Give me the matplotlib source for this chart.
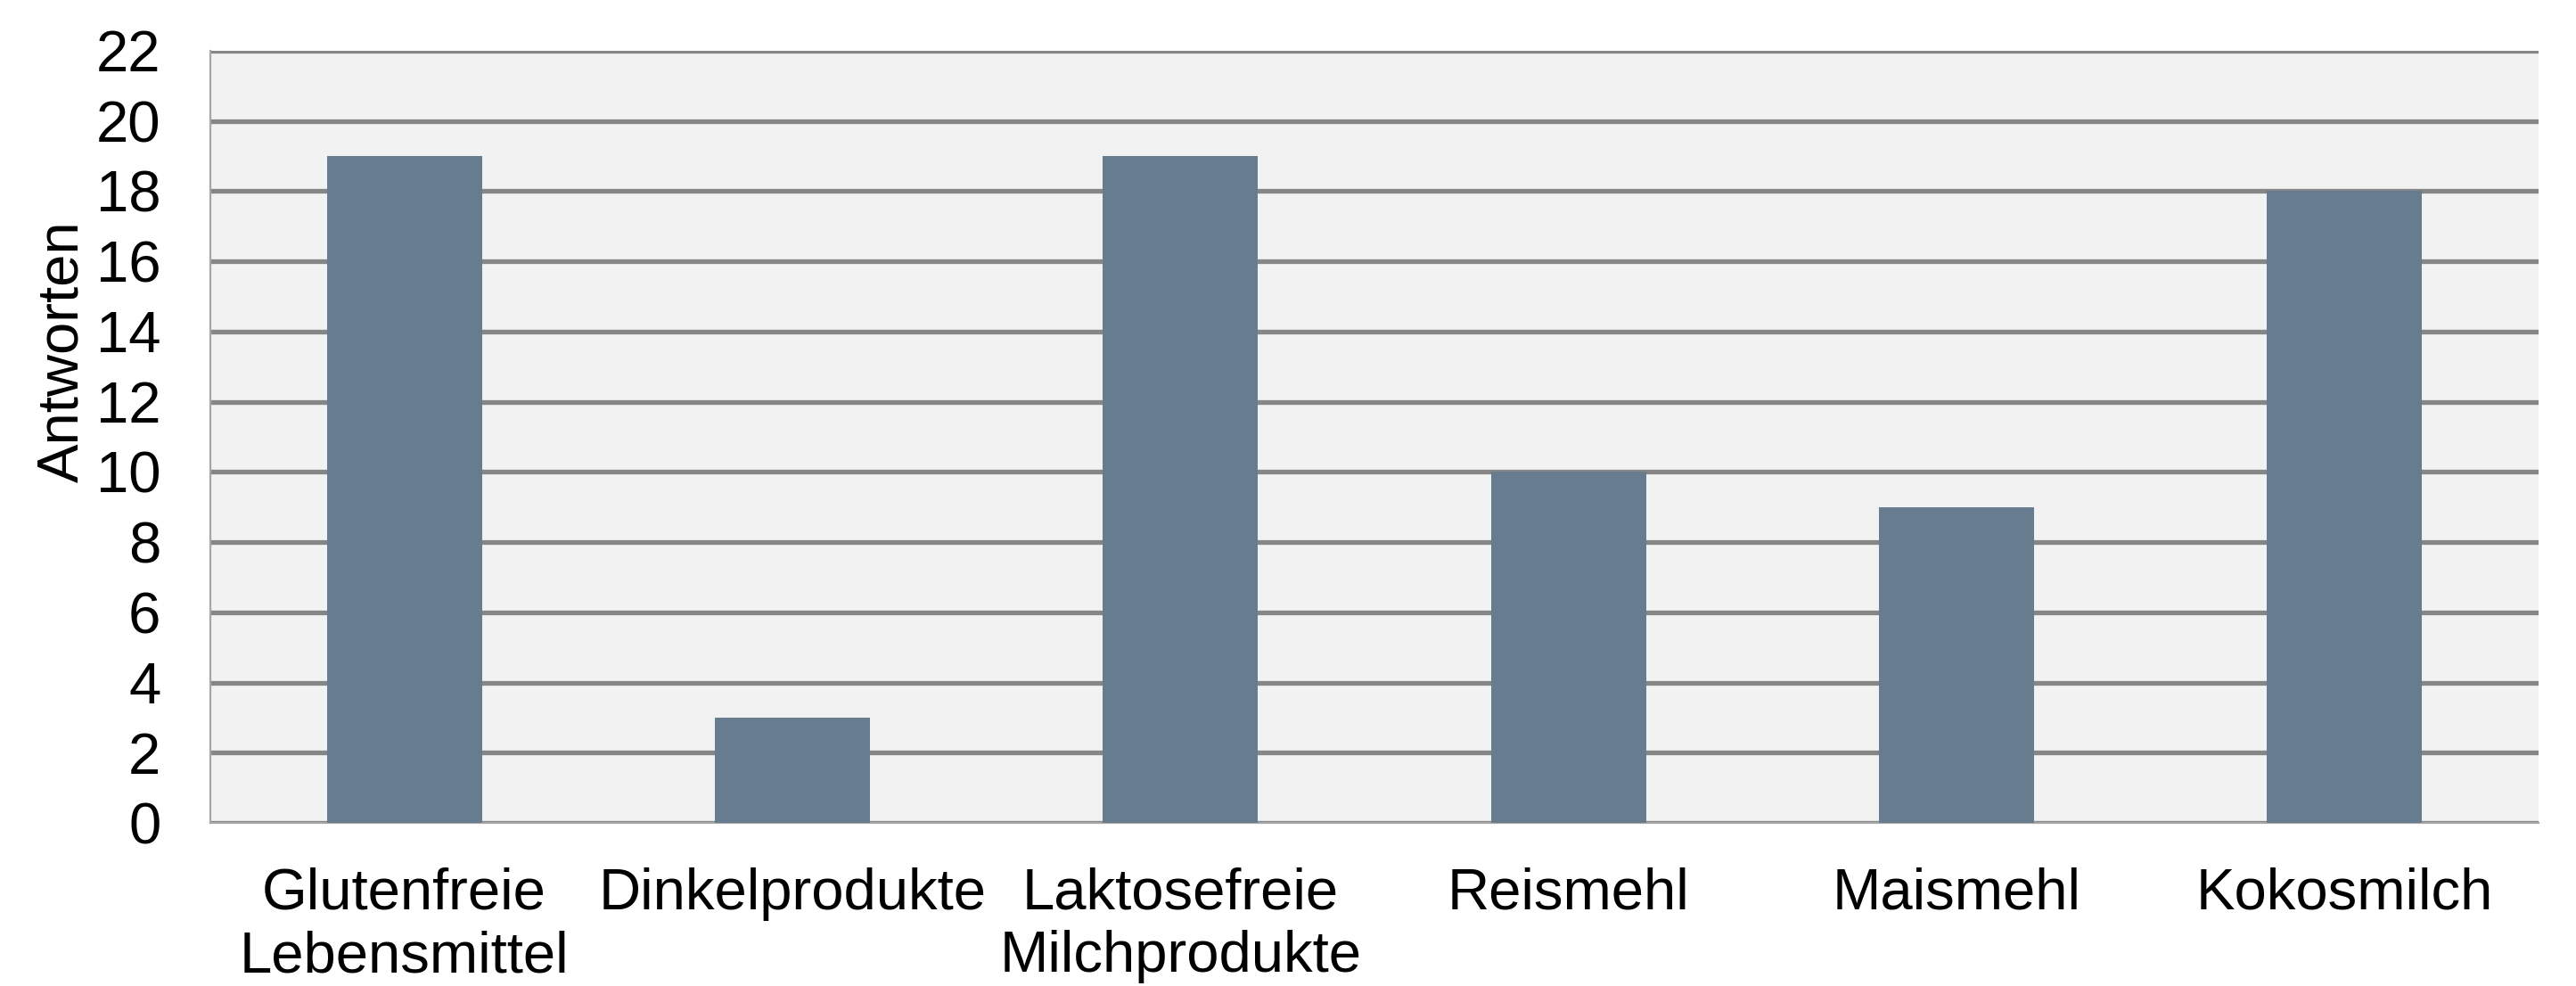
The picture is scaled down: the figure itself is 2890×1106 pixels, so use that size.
import matplotlib
matplotlib.use('Agg')
import matplotlib.pyplot as plt
import numpy as np

categories = ['Glutenfreie\nLebensmittel', 'Dinkelprodukte', 'Laktosefreie\nMilchprodukte',
              'Reismehl', 'Maismehl', 'Kokosmilch']
antworten = [19, 3, 19, 10, 9, 18]
y_ticks = list(range(0, 23, 2))

plt.rcParams['font.family'] = ['Liberation Sans', 'DejaVu Sans']

fig = plt.figure(figsize=(14.45, 5.53), dpi=200)
ax = fig.add_axes([236 / 2890, 1 - 923 / 1106, (2848 - 236) / 2890, (923 - 57) / 1106])

x = np.arange(len(categories))
ax.set_facecolor('#f2f2f2')
ax.bar(x, antworten, width=0.4, color='#687c90', zorder=3)

ax.set_xlim(-0.5, len(categories) - 0.5)
ax.set_ylim(0, 22)
ax.set_yticks(y_ticks)
ax.yaxis.grid(True, color='#868686', linewidth=1.9, zorder=1)
ax.set_axisbelow(True)

ax.set_xticks(x)
ax.set_xticklabels(categories, fontsize=23.5, linespacing=1.22)
ax.tick_params(axis='x', length=0, pad=18)
ax.tick_params(axis='y', length=0, pad=20, labelsize=23.5)

for side in ['top', 'right']:
    ax.spines[side].set_visible(False)
for side in ['left', 'bottom']:
    ax.spines[side].set_color('#a6a6a6')
    ax.spines[side].set_linewidth(0.8)

ax.set_ylabel('Antworten', fontsize=23.5)
ax.yaxis.set_label_coords(-0.052, 0.611)

fig.savefig('out.png', dpi=200, facecolor='white')
